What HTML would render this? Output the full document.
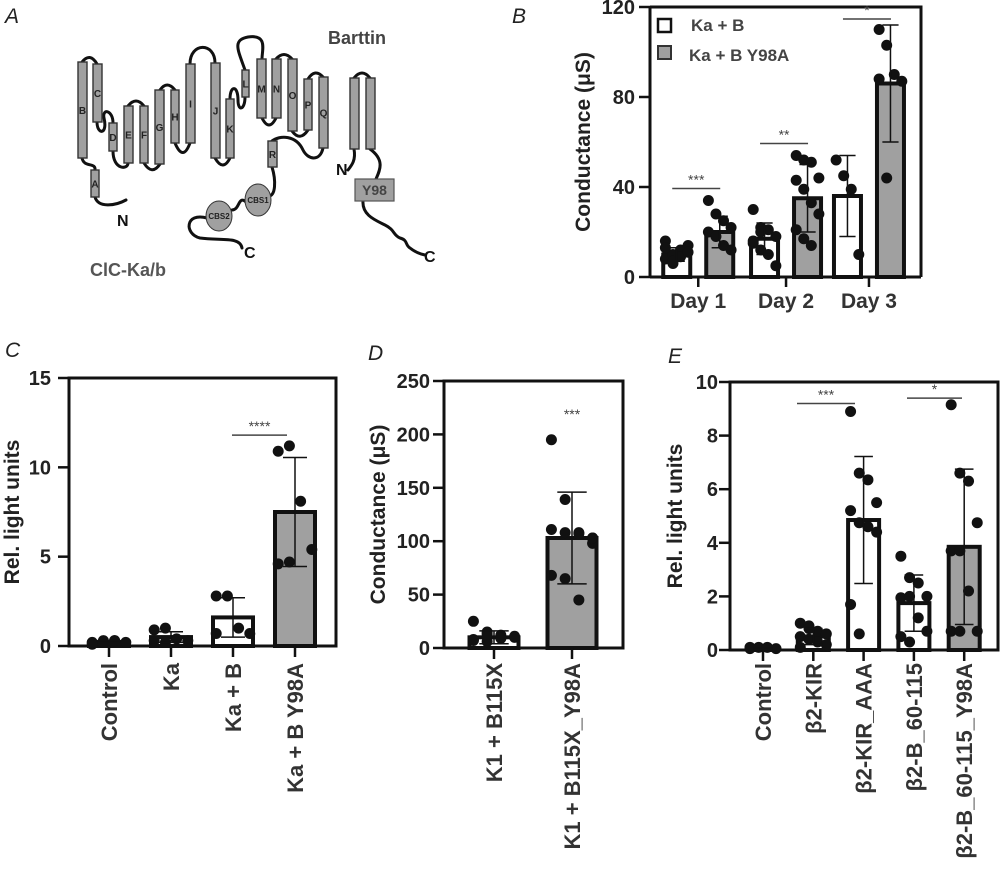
<!DOCTYPE html>
<html><head><meta charset="utf-8"><style>
html,body{margin:0;padding:0;background:#fff;}
svg{display:block;font-family:"Liberation Sans",Arial,sans-serif;}
</style></head><body>
<svg id="fig" width="1000" height="872" viewBox="0 0 1000 872">
<g id="panelA">
<text x="5" y="23" font-size="21" font-style="italic" fill="#222">A</text>
<g fill="none" stroke="#111" stroke-width="3" stroke-linecap="round">
<path d="M82,62 Q90,52 97,64"/>
<path d="M97,122 C97,135 108,135 104,118 C102,108 113,110 113,123"/>
<path d="M113,151 C113,170 128,170 128,163"/>
<path d="M128,106 Q136,96 144,106"/>
<path d="M144,163 Q152,176 160,164"/>
<path d="M160,90 Q167,80 175,90"/>
<path d="M175,143 Q183,162 190,143"/>
<path d="M190,64 C190,42 215,42 215,63"/>
<path d="M215,158 Q223,172 230,158"/>
<path d="M230,99 C230,85 238,85 238,100 C238,112 245,110 245,97"/>
<path d="M245,70 C238,50 232,40 248,37 C268,34 262,50 262,59"/>
<path d="M262,118 Q269,132 276,118"/>
<path d="M276,59 Q284,50 292,59"/>
<path d="M292,131 Q300,142 308,130"/>
<path d="M308,79 Q315,68 323,77"/>
<path d="M323,148 C320,162 308,160 303,150 C296,135 280,135 272,141"/>
<path d="M82,158 C84,168 96,162 95,170"/>
<path d="M95,197 C98,208 115,206 126,200"/>
<path d="M272,167 C276,180 276,197 268,196"/>
<path d="M246,202 C238,195 240,210 232,210"/>
<path d="M207,218 C185,212 184,234 200,238 C220,241 240,236 242,248"/>
<path d="M354,78 Q362,68 370,78"/>
<path d="M354,149 C356,160 352,165 348,170"/>
<path d="M370,149 C385,160 380,170 376,179"/>
<path d="M363,201 C362,215 375,220 385,225 C395,230 393,235 400,238 C408,240 405,245 410,248 C415,252 420,254 425,255"/>
</g>
<g id="helices" fill="#a0a0a0" stroke="#333" stroke-width="1.4"></g>
<ellipse cx="258" cy="200" rx="13" ry="16" fill="#a0a0a0" stroke="#333"/>
<text x="258" y="203" font-size="8" font-weight="bold" text-anchor="middle" fill="#222">CBS1</text>
<ellipse cx="219" cy="216" rx="13" ry="15" fill="#a0a0a0" stroke="#333"/>
<text x="219" y="219" font-size="8" font-weight="bold" text-anchor="middle" fill="#222">CBS2</text>
<rect x="355" y="179" width="39" height="22" fill="#a0a0a0" stroke="#555" stroke-width="1.2"/>
<text x="374.5" y="195" font-size="14" font-weight="bold" text-anchor="middle" fill="#444">Y98</text>
<text x="328" y="44" font-size="18" font-weight="bold" fill="#444">Barttin</text>
<text x="90" y="276" font-size="18" font-weight="bold" fill="#555">ClC-Ka/b</text>
<text x="117" y="226" font-size="16" font-weight="bold" fill="#111">N</text>
<text x="244" y="258" font-size="16" font-weight="bold" fill="#111">C</text>
<text x="336" y="175" font-size="16" font-weight="bold" fill="#111">N</text>
<text x="424" y="262" font-size="16" font-weight="bold" fill="#111">C</text>
</g>
<g id="charts"></g>
</svg>
<script>
const NS='http://www.w3.org/2000/svg';
// ---------- Panel B data ----------
const bCategories=['Day 1','Day 2','Day 3'];
const bSeries=['Ka + B','Ka + B Y98A'];
const bMeansWT=[10,17,36];
const bMeansY98A=[20,35,86];
const bSdWT=[3,7,18];
const bSdY98A=[7,15,26];
const bPointsWT=[[8,10,12,14,16,6,9,11,13,7],[30,22,21,18,15,12,10,5,16,20],[52,45,39,10]];
const bPointsY98A=[[34,28,25,22,20,18,14,12],[54,52,51,44,43,39,33,28,21,17,14],[110,103,90,87,88,44]];
const bTicks=[0,40,80,120];
const bSig=['***','**','*'];
// ---------- Panel C data ----------
const cCategories=['Control','Ka','Ka + B','Ka + B Y98A'];
const cMeans=[0.2,0.5,1.6,7.5];
const cSd=[0.1,0.3,1.1,3.05];
const cPoints=[[0.2,0.3,0.3,0.2,0.1,0.2,0.3],[0.9,1.0,0.4,0.3,0.3,0.2],[2.8,2.8,1.0,0.7,0.7],[10.9,11.2,8.1,5.4,4.6,4.7]];
const cTicks=[0,5,10,15];
// ---------- Panel D data ----------
const dCategories=['K1 + B115X','K1 + B115X_Y98A'];
const dMeans=[10,103];
const dSd=[6,43];
const dPoints=[[25,15,12,10,8,6,9,11,7,13],[195,139,108,103,111,108,107,98,68,65,45,103]];
const dTicks=[0,50,100,150,200,250];
// ---------- Panel E data ----------
const eCategories=['Control','\u03b22-KIR','\u03b22-KIR_AAA','\u03b22-B_60-115','\u03b22-B_60-115_Y98A'];
const eMeans=[0.05,0.5,4.85,1.75,3.85];
const eSd=[0.03,0.3,2.37,1.05,2.9];
const ePoints=[[0.1,0.1,0.1,0.05,0.05],[1.0,0.9,0.7,0.6,0.5,0.4,0.3,0.2,0.1,0.8],[8.9,6.6,6.35,5.5,5.2,4.75,4.6,4.4,1.7,0.6],[3.5,2.7,2.5,2.0,1.95,2.0,1.2,0.7,0.5,0.3],[9.15,6.6,6.3,4.75,3.7,3.7,2.2,0.7,0.7,0.7]];
const eTicks=[0,2,4,6,8,10];

function mk(tag,attrs,parent){const e=document.createElementNS(NS,tag);for(const k in attrs)e.setAttribute(k,attrs[k]);(parent||document.getElementById('charts')).appendChild(e);return e;}
function txt(s,attrs,parent){const e=mk('text',attrs,parent);e.textContent=s;return e;}
const GRAY='#a0a0a0';

const helixDefs=[['B',78,62,9,96],['C',93,64,9,58],['D',109,123,8,28],['E',124,106,9,57],['F',140,106,8,57],['G',155,90,9,74],['H',171,90,8,53],['I',186,64,9,79],['J',211,63,9,95],['K',226,99,8,59],['L',242,70,7,27],['M',257,59,9,59],['N',272,59,9,59],['O',288,59,9,72],['P',304,79,8,51],['Q',319,77,9,71],['R',268,141,9,26],['A',91,170,8,27],['',350,78,9,71],['',366,78,9,71]];
const hg=document.getElementById('helices');
helixDefs.forEach(h=>{
 const r=mk('rect',{x:h[1],y:h[2],width:h[3],height:h[4]},hg);
 
 
 if(h[0]){txt(h[0],{x:h[1]+h[3]/2,y:h[2]+h[4]/2+4,'font-size':10,'font-weight':'bold','text-anchor':'middle',fill:'#222',stroke:'none'},hg);}
});

function axisY(g,ax,y0,y1,vmax,ticks,title,titleX,labOff){
 const sy=v=>y0-(y0-y1)*v/vmax;
 ticks.forEach(t=>{
  mk('line',{x1:ax-11,x2:ax,y1:sy(t),y2:sy(t),stroke:'#111','stroke-width':2.5},g);
  const l=txt(String(t),{x:ax-labOff,y:sy(t)+7,'font-size':20,'font-weight':'bold','text-anchor':'end',fill:'#222'},g);
  
  
 });
 const tt=txt(title,{x:titleX,y:(y0+y1)/2,'font-size':21,'font-weight':'bold','text-anchor':'middle',fill:'#222',transform:`rotate(-90 ${titleX} ${(y0+y1)/2})`},g);
 
 
 return sy;
}
function frame(g,x0,y0,x1,y1){
 const r=mk('rect',{x:x0,y:y1,width:x1-x0,height:y0-y1,fill:'none',stroke:'#111','stroke-width':3},g);
 
 
}
function bar(g,cx,w,mean,sd,pts,sy,fill,name){
 const b=mk('rect',{x:cx-w/2,y:sy(mean),width:w,height:sy(0)-sy(mean),fill:fill,stroke:'#111','stroke-width':4},g);
 
 
 const n=pts.length;
 pts.forEach((v,i)=>{
  const off=(n>1)?((i%4)-1.5)*(w*0.28):0;
  const c=mk('circle',{cx:cx+off,cy:sy(v),r:5.5,fill:'#111'},g);
  
  
 });
 const top=sy(mean+sd),bot=sy(Math.max(0,mean-sd));
 const eb=mk('path',{d:`M${cx},${bot} L${cx},${top} M${cx-w*0.3},${top} L${cx+w*0.3},${top} M${cx-w*0.3},${bot} L${cx+w*0.3},${bot}`,stroke:'#111','stroke-width':1.5,fill:'none'},g);
 
 
}
function sig(g,x1,x2,y,s){
 mk('line',{x1:x1,x2:x2,y1:y,y2:y,stroke:'#444','stroke-width':1.5},g);
 const t=txt(s,{x:(x1+x2)/2,y:y-4,'font-size':14,'text-anchor':'middle',fill:'#444'},g);
 
 
}
function catLabels(g,xs,labels,y0){
 xs.forEach((x,i)=>{
  mk('line',{x1:x,x2:x,y1:y0,y2:y0+11,stroke:'#111','stroke-width':2.5},g);
  const t=txt(labels[i],{x:x+8,y:663,'font-size':22,'font-weight':'bold','text-anchor':'end',fill:'#333',transform:`rotate(-90 ${x+8} 663)`},g);
  
  
 });
}

// ---------- Panel B ----------
(function(){
 const g=mk('g',{});
 
 
 txt('B',{x:512,y:23,'font-size':21,'font-style':'italic',fill:'#222'},g);
 const x0=650,x1=921,y0=277,y1=7;
 const sy=axisY(g,x0,y0,y1,120,bTicks,'Conductance (\u03bcS)',590,15);
 mk('path',{d:`M${x0},${y1} L${x1},${y1} L${x1},${y0}`,fill:'none',stroke:'#111','stroke-width':3},g);
 mk('line',{x1:x0,x2:x1,y1:y0,y2:y0,stroke:'#111','stroke-width':3},g);
 mk('line',{x1:x0,x2:x0,y1:y0,y2:y1,stroke:'#111','stroke-width':3},g);
 const tickX=[x0+(x1-x0)*0.178,x0+(x1-x0)*0.502,x0+(x1-x0)*0.808];
 bCategories.forEach((c,i)=>{
  const cx=tickX[i];
  bar(g,cx-21.5,27,bMeansWT[i],bSdWT[i],bPointsWT[i],sy,'#fff','bar-wt-'+(i+1));
  bar(g,cx+21.5,27,bMeansY98A[i],bSdY98A[i],bPointsY98A[i],sy,GRAY,'bar-y98a-'+(i+1));
  mk('line',{x1:cx,x2:cx,y1:y0,y2:y0+10,stroke:'#111','stroke-width':2.5},g);
  const t=txt(c,{x:cx,y:308,'font-size':21,'font-weight':'bold','text-anchor':'middle',fill:'#333'},g);
  
  
  const top=Math.max(bMeansY98A[i]+bSdY98A[i],Math.max(...bPointsY98A[i]),bMeansWT[i]+bSdWT[i]);
  sig(g,cx-26,cx+22,Math.max(sy(top)-12,19),bSig[i]);
 });
 const l1=mk('rect',{x:658,y:19,width:13,height:13,fill:'#fff',stroke:'#111','stroke-width':2.5},g);
 
 
 txt(bSeries[0],{x:691,y:31,'font-size':17,'font-weight':'bold',fill:'#444'},g);
 const l2=mk('rect',{x:658,y:46,width:13,height:13,fill:GRAY,stroke:'#333','stroke-width':2},g);
 
 
 txt(bSeries[1],{x:689,y:61,'font-size':17,'font-weight':'bold',fill:'#444'},g);
})();

// ---------- Panel C ----------
(function(){
 const g=mk('g',{});
 
 
 txt('C',{x:5,y:357,'font-size':21,'font-style':'italic',fill:'#222'},g);
 const x0=69,x1=336,y0=646,y1=378;
 frame(g,x0,y0,x1,y1);
 const sy=axisY(g,x0,y0,y1,15,cTicks,'Rel. light units',19,18);
 const xs=cCategories.map((c,i)=>x0+40+i*62);
 cCategories.forEach((c,i)=>bar(g,xs[i],40,cMeans[i],cSd[i],cPoints[i],sy,i===3?GRAY:'#fff','bar-'+c.toLowerCase().replace(/[^a-z0-9]+/g,'-')));
 catLabels(g,xs,cCategories,y0);
 sig(g,232,287,sy(11.8),'****');
})();

// ---------- Panel D ----------
(function(){
 const g=mk('g',{});
 
 
 txt('D',{x:368,y:360,'font-size':21,'font-style':'italic',fill:'#222'},g);
 const x0=444,x1=623,y0=648,y1=381;
 frame(g,x0,y0,x1,y1);
 const sy=axisY(g,x0,y0,y1,250,dTicks,'Conductance (\u03bcS)',385,14);
 const xs=[494,572];
 dCategories.forEach((c,i)=>bar(g,xs[i],49,dMeans[i],dSd[i],dPoints[i],sy,i===1?GRAY:'#fff','bar-'+c.toLowerCase().replace(/[^a-z0-9]+/g,'-')));
 catLabels(g,xs,dCategories,y0);
 const t=txt('***',{x:572,y:sy(220)+6,'font-size':14,'text-anchor':'middle',fill:'#444'},g);
 
 
})();

// ---------- Panel E ----------
(function(){
 const g=mk('g',{});
 
 
 txt('E',{x:668,y:363,'font-size':21,'font-style':'italic',fill:'#222'},g);
 const x0=730,x1=998,y0=650,y1=382;
 frame(g,x0,y0,x1,y1);
 const sy=axisY(g,x0,y0,y1,10,eTicks,'Rel. light units',682,12);
 const xs=eCategories.map((c,i)=>763+i*50.3);
 eCategories.forEach((c,i)=>bar(g,xs[i],31,eMeans[i],eSd[i],ePoints[i],sy,i===4?GRAY:'#fff','bar-'+(i+1)));
 catLabels(g,xs,eCategories,y0);
 sig(g,797,855,sy(9.2),'***');
 sig(g,907,962,sy(9.4),'*');
})();
</script>
</body></html>
